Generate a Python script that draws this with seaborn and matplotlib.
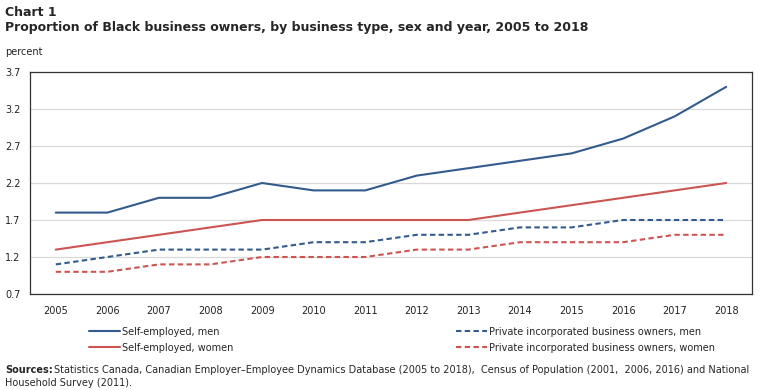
import numpy as np
import pandas as pd
import matplotlib
matplotlib.use("Agg")
import matplotlib.pyplot as plt
import seaborn as sns

# datos
years = list(range(2005, 2019))
self_men = [1.8, 1.8, 2.0, 2.0, 2.2, 2.1, 2.1, 2.3, 2.4, 2.5, 2.6, 2.8, 3.1, 3.5]
self_women = [1.3, 1.4, 1.5, 1.6, 1.7, 1.7, 1.7, 1.7, 1.7, 1.8, 1.9, 2.0, 2.1, 2.2]
priv_men = [1.1, 1.2, 1.3, 1.3, 1.3, 1.4, 1.4, 1.5, 1.5, 1.6, 1.6, 1.7, 1.7, 1.7]
priv_women = [1.0, 1.0, 1.1, 1.1, 1.2, 1.2, 1.2, 1.3, 1.3, 1.4, 1.4, 1.4, 1.5, 1.5]
series_names = ["Self-employed, men", "Self-employed, women",
                "Private incorporated business owners, men",
                "Private incorporated business owners, women"]
y_ticks = [0.7, 1.2, 1.7, 2.2, 2.7, 3.2, 3.7]

azul = "#335b8e"
rojo = "#cc5552"

df = pd.DataFrame({"year": years * 4,
                   "value": self_men + self_women + priv_men + priv_women,
                   "serie": sum([[n] * len(years) for n in series_names], [])})

sns.set_style("white")
plt.rcParams['font.family'] = ['DejaVu Sans']

fig = plt.figure(figsize=(7.68, 3.90), dpi=100)
ax = fig.add_axes([30/768, 1-294/390, 722/768, 222/390])

estilos = {series_names[0]: (azul, "-"), series_names[1]: (rojo, "-"),
           series_names[2]: (azul, (0, (2.6, 1.6))), series_names[3]: (rojo, (0, (2.6, 1.6)))}
for nombre in series_names:
    c, ls = estilos[nombre]
    sub = df[df.serie == nombre]
    sns.lineplot(data=sub, x="year", y="value", ax=ax, color=c, linestyle=ls,
                 linewidth=1.5, label=nombre, legend=False)

ax.set_xlim(2004.5, 2018.5)
ax.set_ylim(0.7, 3.7)
ax.set_yticks(y_ticks)
ax.set_yticklabels([f"{v:.1f}" for v in y_ticks], fontsize=7, color="#222222")
ax.set_xticks(years)
ax.set_xticklabels([str(y) for y in years], fontsize=7, color="#222222")
ax.set_xticks(np.arange(2005.5, 2018, 1), minor=True)
ax.tick_params(axis="x", which="major", length=0, pad=9)
ax.tick_params(axis="x", which="minor", length=5, direction="in", width=0.8, color="#333333")
ax.tick_params(axis="y", length=0, pad=7)
ax.grid(axis="y", color="#d9d9d9", linewidth=0.9)
ax.set_axisbelow(True)
ax.set_xlabel("")
ax.set_ylabel("")
for s in ax.spines.values():
    s.set_color("#333333")
    s.set_linewidth(0.9)

# leyenda en dos columnas
h, l = ax.get_legend_handles_labels()
fig.legend(h, l, ncol=2, frameon=False,
           loc="upper left", bbox_to_anchor=(80/768, 1-318/390), fontsize=7,
           handlelength=3.2, handletextpad=0.2, columnspacing=22.9,
           labelspacing=0.6)

fig.text(5/768, 1-12/390, "Chart 1", fontsize=9, fontweight="bold", va="center")
fig.text(5/768, 1-28/390,
         "Proportion of Black business owners, by business type, sex and year, 2005 to 2018",
         fontsize=9, fontweight="bold", va="center")
fig.text(5/768, 1-52/390, "percent", fontsize=7, va="center", color="#222222")
fig.text(5/768, 1-370/390, "Sources:", fontsize=7, fontweight="bold", va="center")
fig.text(54/768, 1-370/390,
         "Statistics Canada, Canadian Employer\u2013Employee Dynamics Database (2005 to 2018),  Census of Population (2001,  2006, 2016) and National",
         fontsize=7, va="center")
fig.text(5/768, 1-383/390, "Household Survey (2011).", fontsize=7, va="center")

fig.savefig("out.png", dpi=100)
